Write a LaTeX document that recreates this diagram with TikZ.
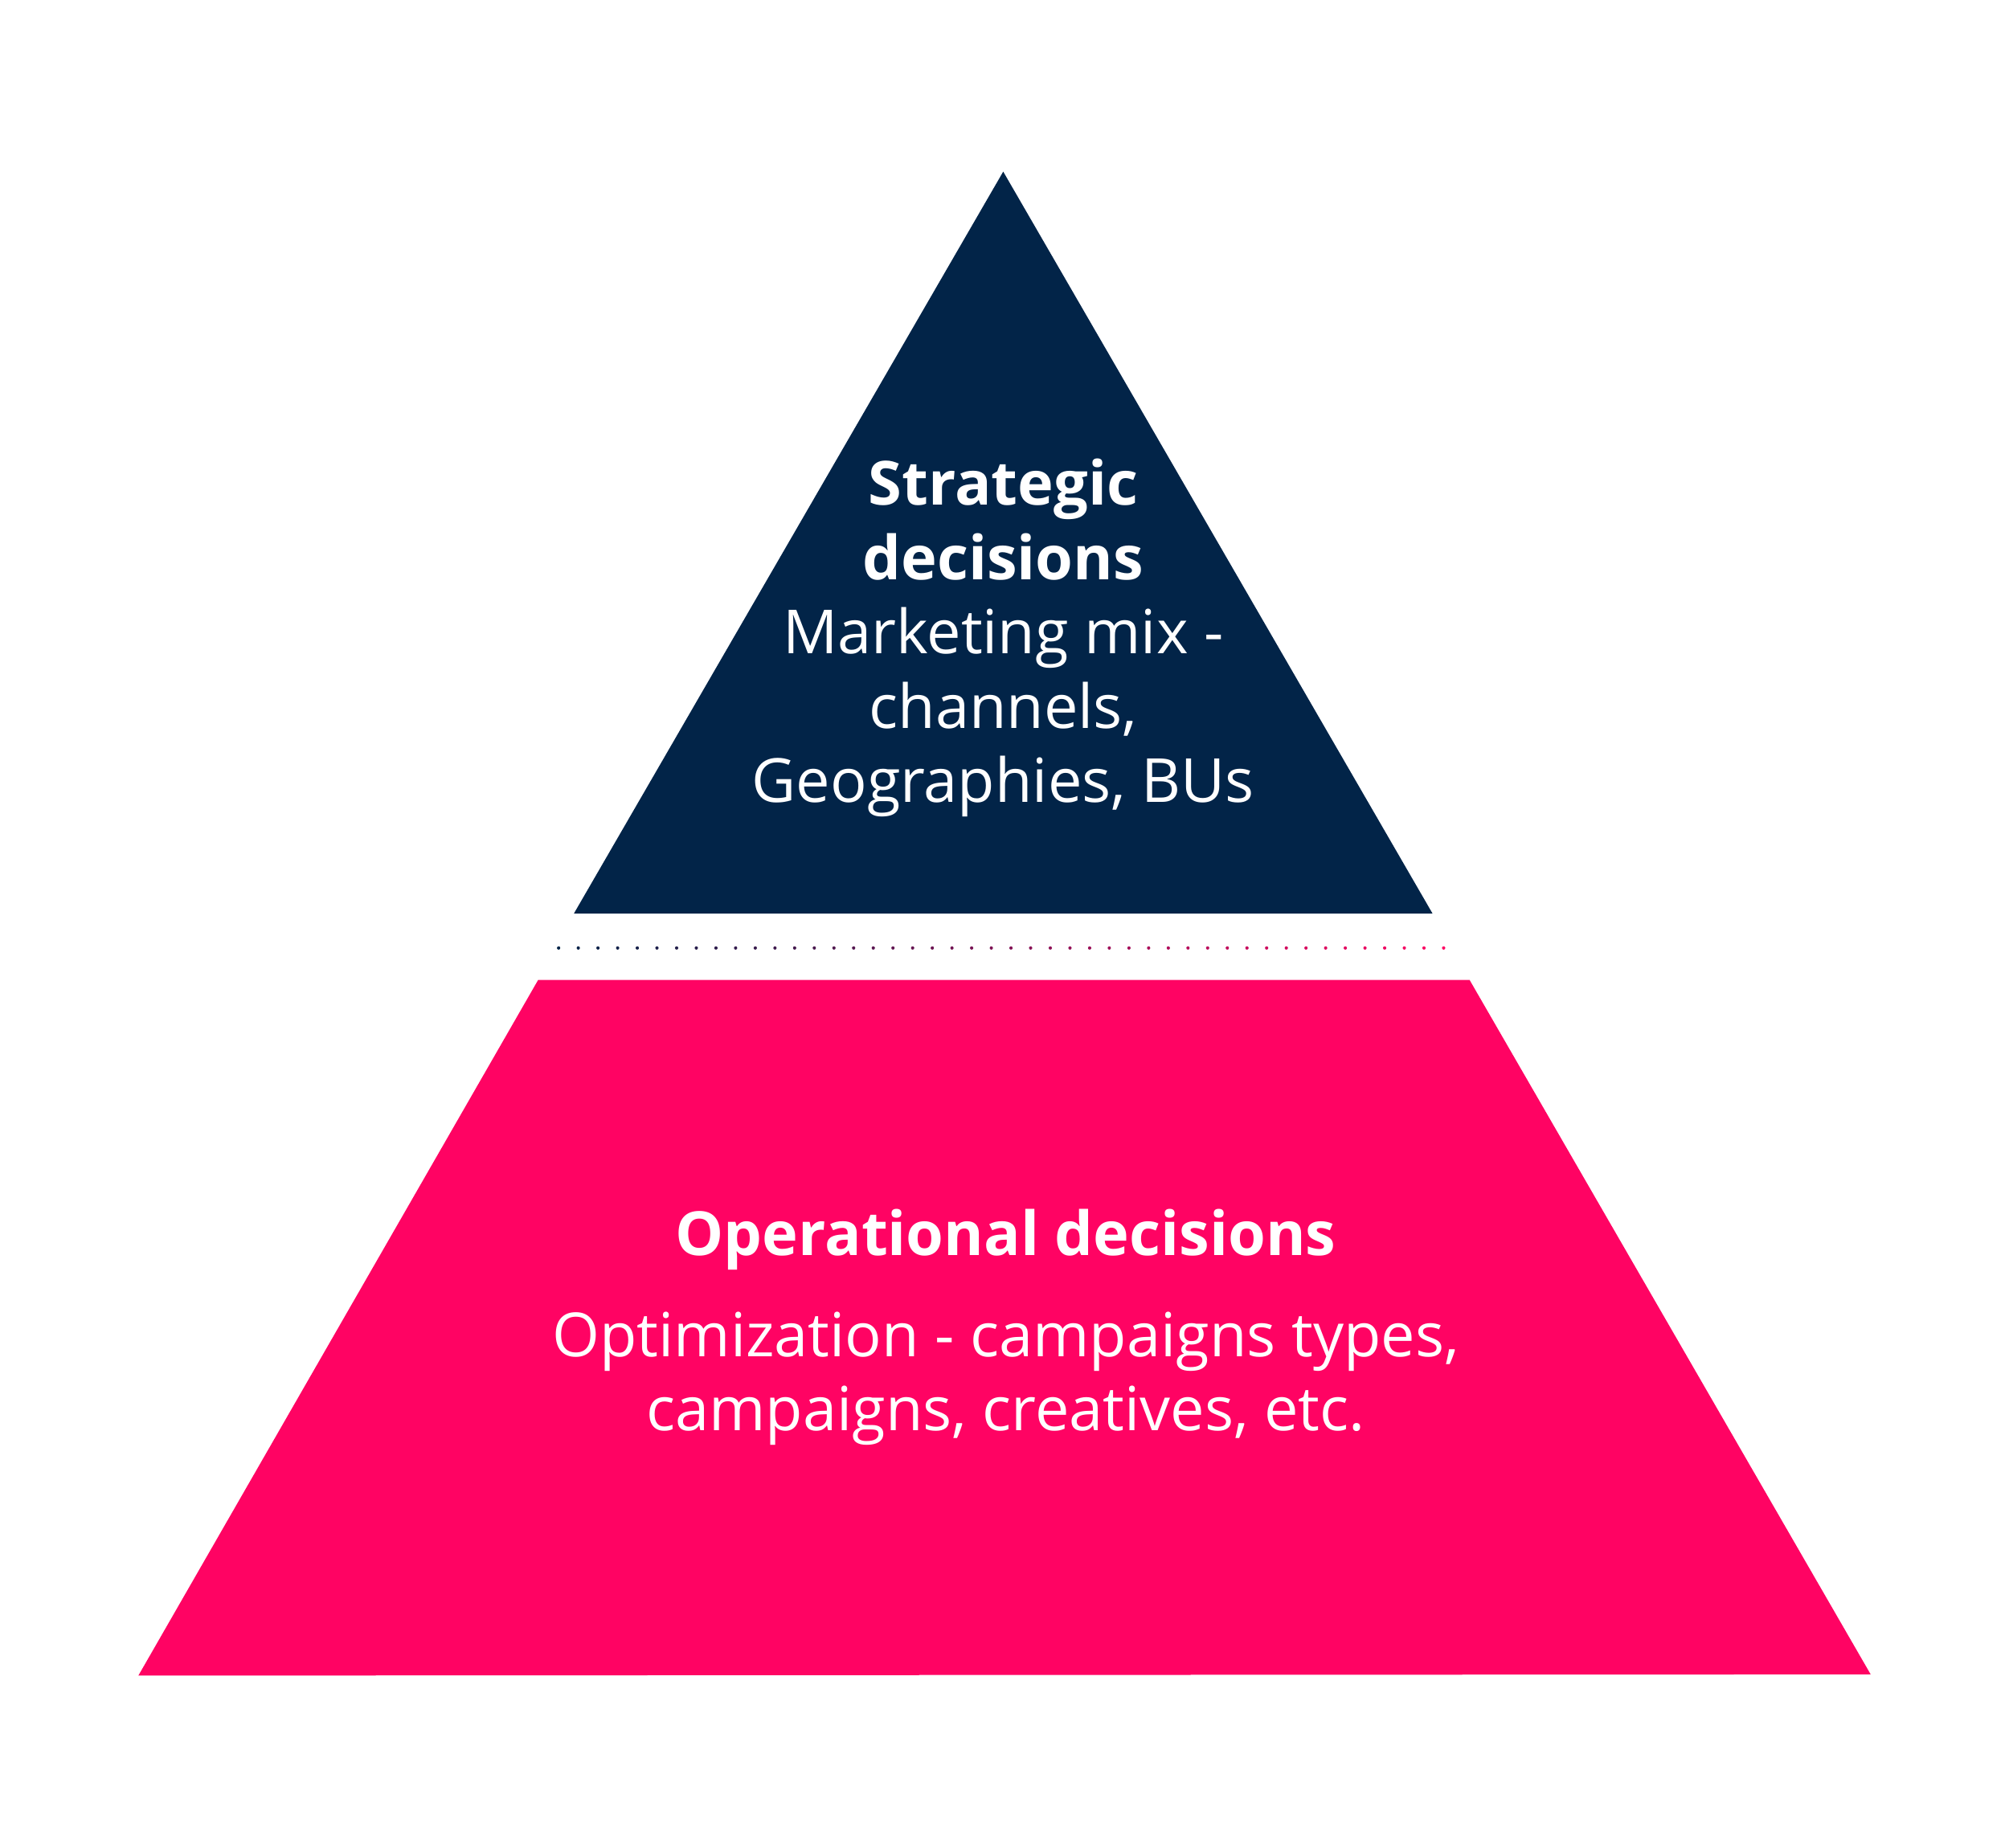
\documentclass[tikz,border=0pt]{standalone}
\usepackage{fontspec}
\setmainfont{Open Sans}
\usetikzlibrary{calc}
\definecolor{navy}{RGB}{2,36,72}
\definecolor{pink}{RGB}{255,3,99}

\begin{document}
\begin{tikzpicture}[x=0.01cm,y=-0.01cm]
	\useasboundingbox (0,0) rectangle (1568,1442);
	\tikzset{label/.style={align=center,text=white,font=\fontsize{13.5}{16.5}\selectfont}}
	% top triangle
	\fill[navy] (783,134) -- (1118,713) -- (448,713) -- cycle;
	% bottom trapezoid
	\fill[pink] (420,765) -- (1147,765) -- (1460,1307) -- (108,1308) -- cycle;
	% dotted separator
	\foreach \i in {0,...,45} {
		\pgfmathsetmacro{\mix}{100-\i*100/45}
		\fill[navy!\mix!pink] ({436+\i*15.35},740) circle (1.3);
	}
	\node[label] (S) at (783,498) {\textbf{Strategic}\\\textbf{decisions}\\Marketing mix -\\channels,\\Geographies, BUs};
	\node[label] (O) at (785,1036) {\textbf{Operational decisions}\\[6pt]Optimization - campaigns types,\\campaigns, creatives, etc.};
\end{tikzpicture}
\end{document}
